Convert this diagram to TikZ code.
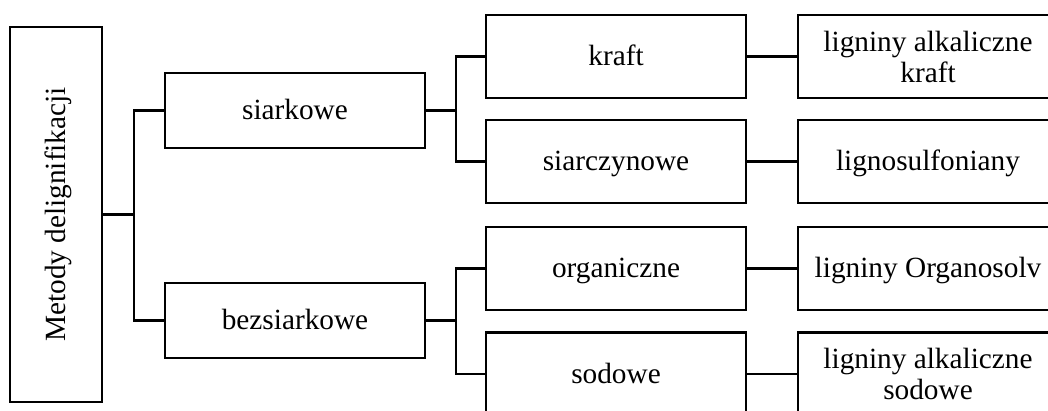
\documentclass[tikz,border=0pt]{standalone}
\usepackage{fontspec}
\setmainfont{Liberation Serif}
\begin{document}
\begin{tikzpicture}[x=1pt,y=-1pt,
  box/.style={draw, line width=2.4pt, inner sep=0pt, minimum width=260pt,
    minimum height=83pt, font=\fontsize{29.3}{31}\selectfont, align=center},
  one/.style={text height=19pt, text depth=1pt},
  link/.style={line width=2.4pt}]
\useasboundingbox (0,0) rectangle (1048,411);
\clip (0,0) rectangle (1048,411);
% root
\node[box, one, rotate=90, minimum width=375pt, minimum height=92pt] (root) at (56,214.5) {Metody delignifikacji};
% second level
\node[box, one, minimum height=75pt] (sia) at (295,110.5) {siarkowe};
\node[box, one, minimum height=75pt] (bez) at (295,320.5) {bezsiarkowe};
% third level
\node[box, one] (kraft) at (616,56.5) {kraft};
\node[box, one] (sic) at (616,161.5) {siarczynowe};
\node[box, one] (org) at (616,268.5) {organiczne};
\node[box, one] (sod) at (616,374) {sodowe};
% products
\node[box] (lk) at (928,56.5) {ligniny alkaliczne\\kraft};
\node[box, one] (ls) at (928,161.5) {lignosulfoniany};
\node[box, one] (lo) at (928,268.5) {ligniny Organosolv};
\node[box] (lsod) at (928,374) {ligniny alkaliczne\\sodowe};
% connectors
\draw[link] (root.south) -- ++(31,0) coordinate (j0);
\draw[link] (sia.west) -| (j0) |- (bez.west);
\draw[link] (sia.east) -- ++(30,0) coordinate (j1);
\draw[link] (kraft.west) -| (j1) |- (sic.west);
\draw[link] (bez.east) -- ++(30,0) coordinate (j2);
\draw[link] (org.west) -| (j2) |- (sod.west);
\draw[link] (kraft) -- (lk);
\draw[link] (sic) -- (ls);
\draw[link] (org) -- (lo);
\draw[link] (sod) -- (lsod);
\end{tikzpicture}
\end{document}
